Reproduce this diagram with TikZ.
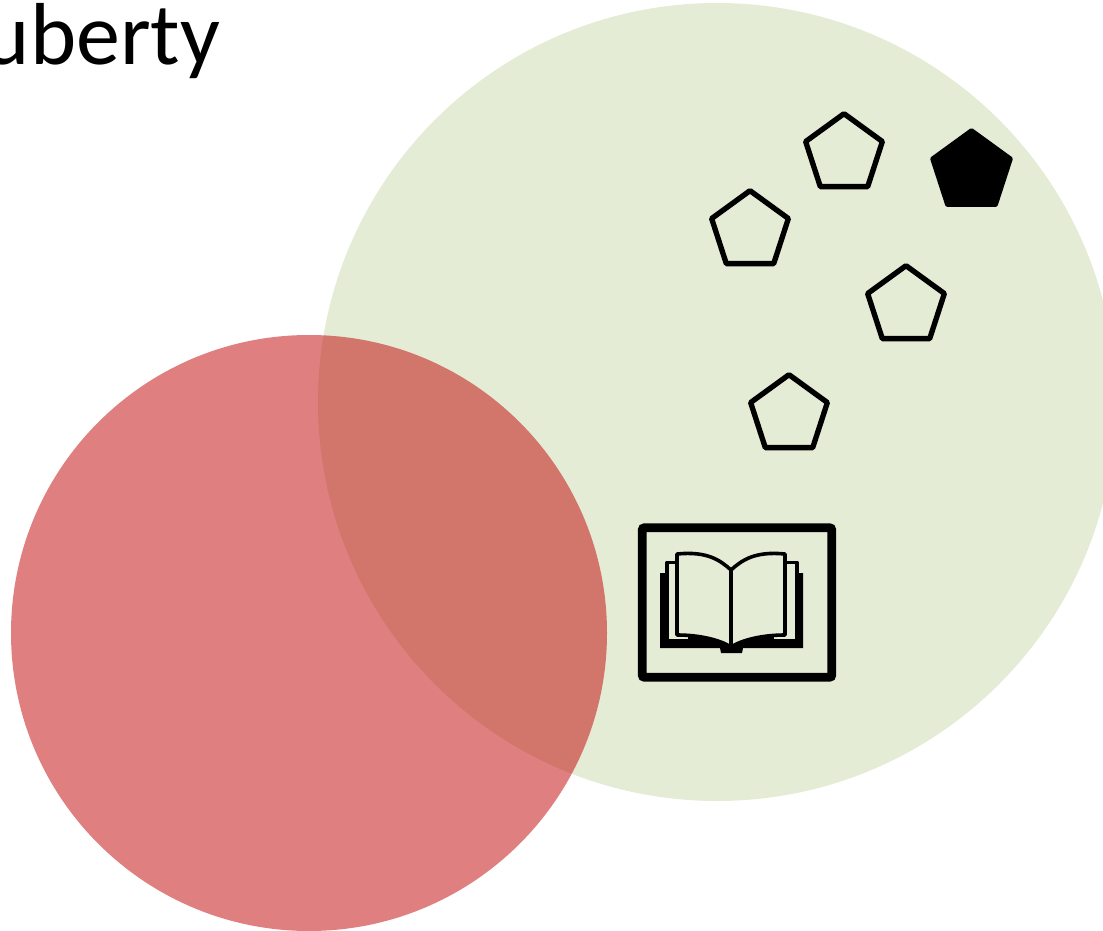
\documentclass[tikz,border=0pt]{standalone}
\usepackage{fontspec}
\setmainfont{Carlito}
\usetikzlibrary{shapes.geometric}
\definecolor{sagefill}{RGB}{229,236,214}
\definecolor{redfill}{RGB}{192,0,0}

\begin{document}
\begin{tikzpicture}[
        x=0.75pt, y=-0.75pt,
        bigcircle/.style={circle, inner sep=0pt, minimum size=#1*1.5pt},
        pentagon/.style={regular polygon, regular polygon sides=5, draw, line width=4pt, line join=round, inner sep=0pt, minimum size=60.5pt},
        frame/.style={rectangle, draw, line width=6.6pt, rounded corners=1.5pt, inner sep=0pt, minimum width=142pt, minimum height=112pt},
        bookline/.style={draw=black, fill=sagefill, line width=2.7pt, line join=round}
    ]
    \useasboundingbox (0,0) rectangle (1103,931);
    \clip (0,0) rectangle (1103,931);

    % Circles
    \node[bigcircle=399, fill=sagefill] (rest) at (717,402) {};
    \node[bigcircle=298, fill=redfill, fill opacity=0.5] (stress) at (309,633) {};

    % Label
    \node[anchor=base east, inner sep=0pt, font=\fontsize{66}{72}\selectfont] (title) at (220.5,64.5) {uberty};

    % Pentagons
    \node[pentagon] (penta) at (844,154) {};
    \node[pentagon] (pentb) at (750,231) {};
    \node[pentagon] (pentc) at (906,306) {};
    \node[pentagon] (pentd) at (789,415) {};
    \node[pentagon, fill=black, line width=3pt, minimum size=62pt] (pente) at (971.5,171.5) {};

    % Book
    \node[frame] (bookframe) at (737,602.5) {};
    \fill[black] (660,573) -- (803,573) -- (803,648) -- (743,648) -- (742,653) -- (721,653) -- (720,648) -- (660,648) -- cycle;
    \path[bookline] (667,562.5) rectangle (690,641);
    \path[bookline] (772,562.5) rectangle (797,641);
    \path[bookline] (677,554) .. controls (707,551) and (720,560) .. (731,570) -- (731,647) .. controls (720,640) and (700,635) .. (677,635) -- cycle;
    \path[bookline] (785,554) .. controls (755,551) and (742,560) .. (731,570) -- (731,647) .. controls (742,640) and (762,635) .. (785,635) -- cycle;

\end{tikzpicture}
\end{document}
